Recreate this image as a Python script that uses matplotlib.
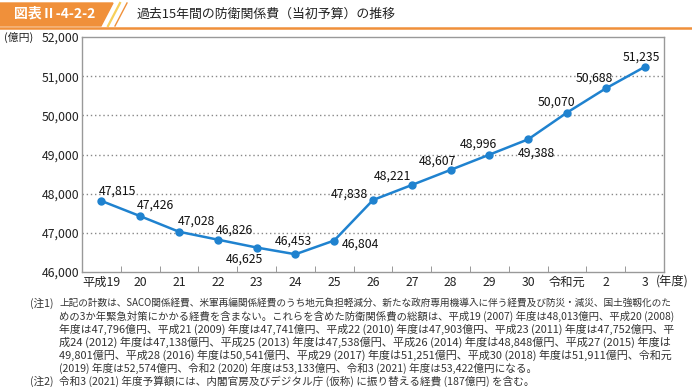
import numpy as np
import matplotlib.pyplot as plt
from matplotlib.patches import Polygon

plt.rcParams['font.family'] = ['Noto Sans CJK JP', 'DejaVu Sans']

# data
years = ["平成19", "20", "21", "22", "23", "24", "25", "26", "27", "28",
         "29", "30", "令和元", "2", "3"]
budget = [47815, 47426, 47028, 46826, 46625, 46453, 46804, 47838, 48221,
          48607, 48996, 49388, 50070, 50688, 51235]
yticks = [46000, 47000, 48000, 49000, 50000, 51000, 52000]

# label offsets in pixels (dx, dy up)
offs = [(16, 10), (15, 11), (17, 11), (17, 10), (-12, -12), (-2, 13),
        (26, -4), (-24, 6), (-19, 9), (-13, 9), (-11, 11), (8, -14),
        (-11, 10), (-11, 10), (-3, 10)]

# footnotes: x, y, text, full line?
notes = [
    (30, 303, "(注1)", False),
    (59, 303, "上記の計数は、SACO関係経費、米軍再編関係経費のうち地元負担軽減分、新たな政府専用機導入に伴う経費及び防災・減災、国土強靱化のた", True),
    (59, 316, "めの3か年緊急対策にかかる経費を含まない。これらを含めた防衛関係費の総額は、平成19 (2007) 年度は48,013億円、平成20 (2008)", True),
    (59, 329, "年度は47,796億円、平成21 (2009) 年度は47,741億円、平成22 (2010) 年度は47,903億円、平成23 (2011) 年度は47,752億円、平", True),
    (59, 342, "成24 (2012) 年度は47,138億円、平成25 (2013) 年度は47,538億円、平成26 (2014) 年度は48,848億円、平成27 (2015) 年度は", True),
    (59, 355, "49,801億円、平成28 (2016) 年度は50,541億円、平成29 (2017) 年度は51,251億円、平成30 (2018) 年度は51,911億円、令和元", True),
    (59, 368, "(2019) 年度は52,574億円、令和2 (2020) 年度は53,133億円、令和3 (2021) 年度は53,422億円になる。", False),
    (30, 381, "(注2)", False),
    (59, 381, "令和3 (2021) 年度予算額には、内閣官房及びデジタル庁 (仮称) に振り替える経費 (187億円) を含む。", False),
]

W, H = 692, 387
fig = plt.figure(figsize=(W / 100, H / 100), dpi=100)

def fx(x):
    return x / W

def fy(y):
    return 1 - y / H

# header
orange = "#f0903a"
fig.patches.append(Polygon([(fx(0), fy(3)), (fx(113), fy(3)), (fx(101), fy(26)),
                            (fx(0), fy(26))], closed=True, transform=fig.transFigure,
                           color=orange, zorder=1))
fig.lines.append(plt.Line2D([fx(120), fx(108)], [fy(3), fy(26)], transform=fig.transFigure,
                            color="#f7d05a", lw=1.6))
fig.lines.append(plt.Line2D([fx(127), fx(115)], [fy(3), fy(26)], transform=fig.transFigure,
                            color=orange, lw=1.0))
fig.lines.append(plt.Line2D([0, 1], [fy(27.5), fy(27.5)], transform=fig.transFigure,
                            color=orange, lw=1.8))
fig.text(fx(14), fy(14), "図表Ⅱ-4-2-2", color="white", fontsize=10,
         va="center", ha="left", fontweight="bold")
fig.text(fx(137), fy(14), "過去15年間の防衛関係費（当初予算）の推移", color="#222222",
         fontsize=9.3, va="center", ha="left")

# axes
ax = fig.add_axes([fx(82), fy(272), fx(664) - fx(82), fy(37) - fy(272)])
x = np.arange(len(years))
blue = "#1f82cf"
ax.plot(x, budget, color=blue, lw=1.8, marker="o", ms=5, zorder=3)
for xi, v, (dx, dy) in zip(x, budget, offs):
    ax.annotate(f"{v:,}", (xi, v), xytext=(dx, dy), textcoords="offset pixels",
                ha="center", va="center", fontsize=8.8, color="#111111")

ax.set_xlim(-0.5, len(years) - 0.5)
ax.set_ylim(yticks[0], yticks[-1])
ax.set_yticks(yticks)
ax.set_yticklabels([f"{v:,}" for v in yticks], fontsize=8.8, color="#222222")
ax.set_xticks(x)
ax.set_xticklabels(years, fontsize=8.8, color="#222222")
ax.set_xticks(np.arange(0.5, len(years) - 1, 1), minor=True)
ax.tick_params(axis="x", which="major", length=0, pad=3)
ax.tick_params(axis="x", which="minor", direction="in", length=4, color="#888888")
ax.tick_params(axis="y", length=0, pad=2)
for yv in yticks[1:-1]:
    ax.axhline(yv, color="#888888", lw=1, ls=(0, (1, 2)), zorder=1)
for s in ax.spines.values():
    s.set_color("#999999")
    s.set_linewidth(1)

fig.text(fx(4), fy(37), "(億円)", fontsize=7.8, va="center", ha="left", color="#222222")
fig.text(fx(656), fy(281), "(年度)", fontsize=8.8, va="center", ha="left", color="#222222")

# footnotes, full lines stretched to the right edge like the justified original
renderer = fig.canvas.get_renderer()
base = 7.0
sizes = []
short = []
for nx, ny, t, full in notes:
    txt = fig.text(fx(nx), fy(ny), t, fontsize=base, va="center", ha="left", color="#333333")
    if full:
        w = txt.get_window_extent(renderer).width
        txt.set_fontsize(base * (675 - nx) / w)
        sizes.append(txt.get_fontsize())
    else:
        short.append(txt)
for txt in short:
    txt.set_fontsize(np.mean(sizes))

fig.savefig("out.png", dpi=100)
